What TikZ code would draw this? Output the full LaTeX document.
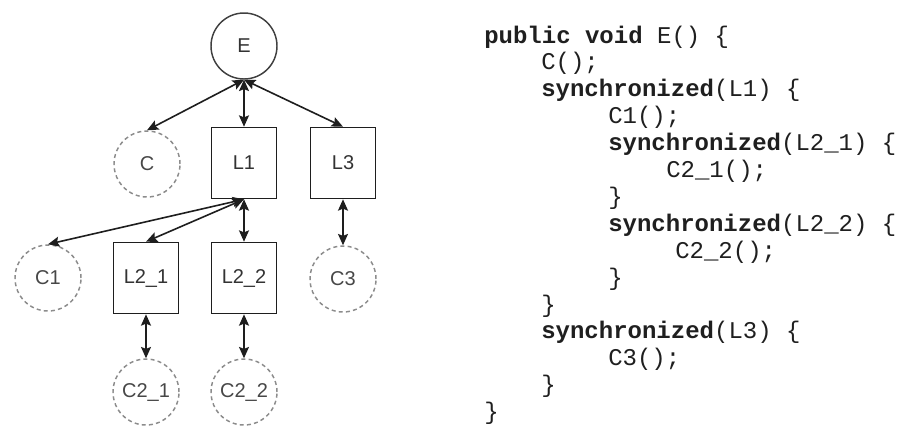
\documentclass[tikz,border=0pt]{standalone}
\usepackage{fontspec}
\usetikzlibrary{arrows.meta}
\newfontfamily\codefont{Liberation Mono}
\newfontfamily\labelfont{Liberation Sans}
\definecolor{edgecol}{HTML}{1E1E1E}
\definecolor{dashcol}{HTML}{8C8C8C}
\definecolor{labelcol}{HTML}{333333}
\tikzset{
  x=0.75pt, y=-0.75pt,
  nodelabel/.style={font=\labelfont\fontsize{15pt}{17pt}\selectfont, text=labelcol, inner sep=0pt},
  callnode/.style={nodelabel, circle, draw=edgecol!85!white, line width=1.1pt, minimum size=49.5pt},
  subcall/.style={nodelabel, circle, draw=dashcol, line width=1.1pt, dash pattern=on 3pt off 2.4pt, minimum size=49.5pt, text=labelcol!90!white},
  lockbox/.style={nodelabel, rectangle, draw=edgecol, line width=1.2pt, minimum width=48.75pt, minimum height=53.25pt},
  link/.style={draw=edgecol, line width=1.2pt, {Stealth[length=8.5pt,width=7.5pt,inset=1.5pt]}-{Stealth[length=8.5pt,width=7.5pt,inset=1.5pt]}},
  codeline/.style={font=\codefont\fontsize{18pt}{20pt}\selectfont, text=black!88!white, inner sep=0pt, anchor=base west},
}
\begin{document}
\begin{tikzpicture}
\useasboundingbox (0,0) rectangle (899,426);

% call tree
\node[callnode] (E) at (244,46) {E};
\node[subcall] (C) at (147,164) {C};
\node[lockbox] (L1) at (244,163) {L1};
\node[lockbox] (L3) at (343,163) {L3};
\node[subcall] (C1) at (48,278) {C1};
\node[lockbox] (L21) at (146,278) {L2\_1};
\node[lockbox] (L22) at (244,278) {L2\_2};
\node[subcall] (C3) at (343,279) {C3};
\node[subcall] (C21) at (146,392) {C2\_1};
\node[subcall] (C22) at (244,392) {C2\_2};

\draw[link] (E.south) -- (C.north);
\draw[link] (E.south) -- (L1.north);
\draw[link] (E.south) -- (L3.north);
\draw[link] (L1.south) -- (C1.north);
\draw[link] (L1.south) -- (L21.north);
\draw[link] (L1.south) -- (L22.north);
\draw[link] (L3.south) -- (C3.north);
\draw[link] (L21.south) -- (C21.north);
\draw[link] (L22.south) -- (C22.north);

% source listing
\def\ls{26.9}
\node[codeline] (k0)  at (484, 43+0*\ls)  {\textbf{public void} E() \{};
\node[codeline] (k1)  at (541, 43+1*\ls)  {C();};
\node[codeline] (k2)  at (541, 43+2*\ls)  {\textbf{synchronized}(L1) \{};
\node[codeline] (k3)  at (608, 43+3*\ls)  {C1();};
\node[codeline] (k4)  at (608, 43+4*\ls)  {\textbf{synchronized}(L2\_1) \{};
\node[codeline] (k5)  at (666, 43+5*\ls)  {C2\_1();};
\node[codeline] (k6)  at (608, 43+6*\ls)  {\}};
\node[codeline] (k7)  at (608, 43+7*\ls)  {\textbf{synchronized}(L2\_2) \{};
\node[codeline] (k8)  at (675, 43+8*\ls)  {C2\_2();};
\node[codeline] (k9)  at (608, 43+9*\ls)  {\}};
\node[codeline] (k10) at (541, 43+10*\ls) {\}};
\node[codeline] (k11) at (541, 43+11*\ls) {\textbf{synchronized}(L3) \{};
\node[codeline] (k12) at (608, 43+12*\ls) {C3();};
\node[codeline] (k13) at (541, 43+13*\ls) {\}};
\node[codeline] (k14) at (484, 43+14*\ls) {\}};
\end{tikzpicture}
\end{document}
